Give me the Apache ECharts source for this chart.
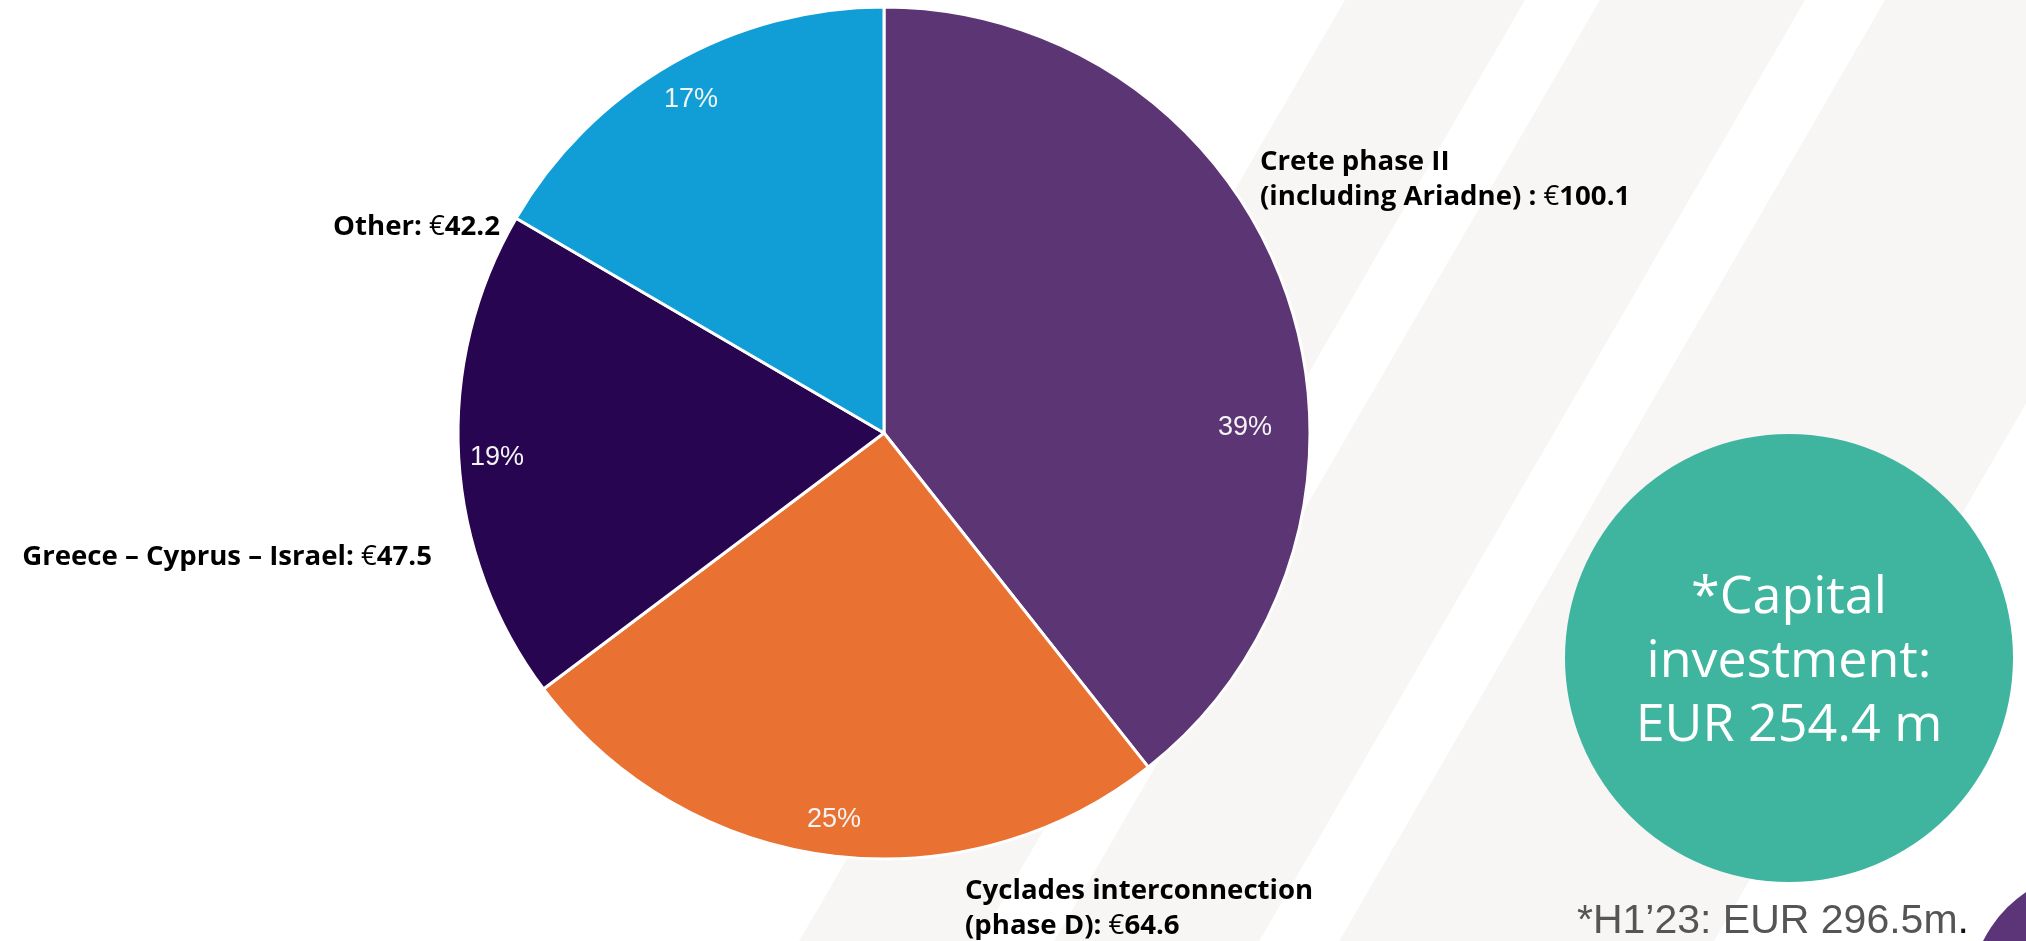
<!DOCTYPE html>
<html>
<head>
<meta charset="utf-8">
<script src="https://cdn.jsdelivr.net/npm/echarts@6/dist/echarts.min.js"></script>
<style>
html,body{margin:0;padding:0;background:#ffffff;}
#chart{width:2026px;height:941px;}
</style>
</head>
<body>
<div id="chart"></div>
<script>
// ---- data ----
const categories = ['Crete phase II\n(including Ariadne) :', 'Cyclades interconnection\n(phase D):', 'Greece – Cyprus – Israel:', 'Other:'];
const values = [100.1, 64.6, 47.5, 42.2];
const colors = ['#5c3575', '#e97132', '#280551', '#119ed7'];
const totalText = ['*Capital', 'investment:', 'EUR 254.4 m'];
const footnote = '*H1’23: EUR 296.5m';

// ---- layout ----
const CX = 884, CY = 433, R = 426;
const pctPos = [[361, -5], [-50, 387], [-387, 25], [-193, -333]];
const namePos = [[1260, 180, 'left'], [965, 909, 'left'], [432, 557, 'right'], [500, 227, 'right']];

const chart = echarts.init(document.getElementById('chart'), null, {renderer: 'canvas'});

const stripeSlope = -0.58;
const stripeTops = [[1345, 1525], [1600, 1805], [1885, 2260]];
const stripes = stripeTops.map(function (s) {
  const dx = stripeSlope * 941;
  return {
    type: 'polygon', z: -10, silent: true,
    shape: {points: [[s[0], 0], [s[1], 0], [s[1] + dx, 941], [s[0] + dx, 941]]},
    style: {fill: '#f7f6f4'}
  };
});

const data = categories.map(function (c, i) {
  return {name: c, value: values[i], itemStyle: {color: colors[i]}};
});

chart.setOption({
  backgroundColor: '#ffffff',
  animation: false,
  graphic: stripes.concat([
    {type: 'circle', z: -5, silent: true, shape: {cx: 2100, cy: 1000, r: 131}, style: {fill: '#5b3577'}},
    {type: 'circle', z: 1, silent: true, shape: {cx: 1789, cy: 658, r: 224}, style: {fill: '#3fb5a0'}},
    {type: 'text', z: 2, silent: true,
      style: {text: totalText.join('\n'), x: 1789, y: 662, align: 'center', verticalAlign: 'middle',
        fill: '#ffffff', font: 'normal 52px "Open Sans", sans-serif', lineHeight: 64}},
    {type: 'text', z: 2, silent: true,
      style: {x: 1577, y: 922, verticalAlign: 'middle',
        rich: {g: {fill: '#555555', font: 'normal 41px "Liberation Sans", Arial, sans-serif'},
               k: {fill: '#111111', font: 'normal 41px "Liberation Sans", Arial, sans-serif'}},
        text: '{g|' + footnote + '}{k|.}'}}
  ]),
  series: [
    {
      type: 'pie',
      center: [CX, CY],
      radius: [0, R],
      startAngle: 90,
      clockwise: true,
      data: data,
      itemStyle: {borderColor: '#ffffff', borderWidth: 3},
      labelLine: {show: false},
      label: {
        show: true,
        position: 'outside',
        overflow: 'none',
        width: 600,
        formatter: function (p) {
          const lines = p.name.split('\n');
          let s = lines.slice(0, -1).map(function (l) { return '{b|' + l + '}'; }).join('\n');
          if (s) s += '\n';
          s += '{b|' + lines[lines.length - 1] + ' }{e|€}{b|' + values[p.dataIndex].toFixed(1) + '}';
          return s;
        },
        rich: {
          b: {fontFamily: '"Open Sans", sans-serif', fontWeight: 'bold', fontSize: 27.6, color: '#000000', lineHeight: 35},
          e: {fontFamily: '"Open Sans", sans-serif', fontWeight: 'normal', fontSize: 27.6, color: '#000000', lineHeight: 35}
        }
      },
      labelLayout: function (p) {
        const n = namePos[p.dataIndex];
        return {x: n[0], y: n[1], align: n[2], verticalAlign: 'middle'};
      },
      emphasis: {disabled: true}
    },
    {
      type: 'pie',
      center: [CX, CY],
      radius: [0, R],
      startAngle: 90,
      clockwise: true,
      silent: true,
      data: data.map(function (d) { return {name: d.name, value: d.value}; }),
      itemStyle: {color: 'rgba(0,0,0,0)', borderWidth: 0},
      labelLine: {show: false},
      label: {
        show: true,
        position: 'inside',
        formatter: function (p) { return Math.round(p.percent) + '%'; },
        color: '#f4f4f4',
        fontFamily: '"Liberation Sans", Arial, sans-serif',
        fontSize: 27
      },
      labelLayout: function (p) {
        const o = pctPos[p.dataIndex];
        return {x: CX + o[0], y: CY + o[1], align: 'center', verticalAlign: 'middle'};
      },
      emphasis: {disabled: true}
    }
  ]
});
</script>
</body>
</html>
